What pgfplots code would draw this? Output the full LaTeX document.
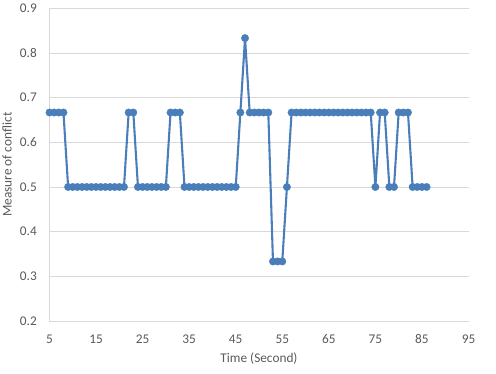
\documentclass[border=0pt]{standalone}
\usepackage{pgfplots}
\pgfplotsset{compat=1.18}
\usepackage{fontspec}
\setmainfont{Carlito}
\definecolor{ser}{HTML}{4A7EBB}
\definecolor{gridc}{HTML}{D9D9D9}
\definecolor{txt}{HTML}{595959}
\begin{document}
\begin{tikzpicture}
\begin{axis}[name=ax,
  scale only axis, width=419bp, height=312.7bp,
  xmin=5, xmax=95, ymin=0.2, ymax=0.9,
  xtick={5,15,...,95}, ytick={0.2,0.3,...,0.9},
  axis x line*=bottom, axis y line*=left,
  axis line style={gridc, line width=0.75pt, -},
  major tick length=0pt,
  ymajorgrids, grid style={gridc, line width=0.75pt},
  tick label style={font=\fontsize{13.3bp}{15bp}\selectfont, text=txt, inner sep=0pt},
  xticklabel style={anchor=base, yshift=-22.3bp},
  yticklabel style={anchor=east, xshift=-12.5bp, /pgf/number format/fixed, /pgf/number format/precision=1, /pgf/number format/fixed zerofill},
  /pgf/number format/assume math mode=true,
  xlabel={Time (Second)}, ylabel={Measure of conflict},
  label style={font=\fontsize{13.3bp}{15bp}\selectfont, text=txt, inner sep=0pt},
  xlabel style={at={(axis description cs:0.5,0)}, anchor=center, yshift=-38bp},
  ylabel style={at={(axis description cs:0,0.5)}, anchor=center, yshift=42.5bp},
  clip=false,
]
\addplot[ser, line width=2.1pt, mark=*, mark size=3.7bp, mark options={solid, fill=ser, draw=ser, line width=0.4pt}] coordinates {
(5,0.6667)(6,0.6667)(7,0.6667)(8,0.6667)
(9,0.5)(10,0.5)(11,0.5)(12,0.5)(13,0.5)(14,0.5)(15,0.5)(16,0.5)(17,0.5)(18,0.5)(19,0.5)(20,0.5)(21,0.5)
(22,0.6667)(23,0.6667)
(24,0.5)(25,0.5)(26,0.5)(27,0.5)(28,0.5)(29,0.5)(30,0.5)
(31,0.6667)(32,0.6667)(33,0.6667)
(34,0.5)(35,0.5)(36,0.5)(37,0.5)(38,0.5)(39,0.5)(40,0.5)(41,0.5)(42,0.5)(43,0.5)(44,0.5)(45,0.5)
(46,0.6667)(47,0.8333)
(48,0.6667)(49,0.6667)(50,0.6667)(51,0.6667)(52,0.6667)
(53,0.3333)(54,0.3333)(55,0.3333)
(56,0.5)
(57,0.6667)(58,0.6667)(59,0.6667)(60,0.6667)(61,0.6667)(62,0.6667)(63,0.6667)(64,0.6667)(65,0.6667)(66,0.6667)(67,0.6667)(68,0.6667)(69,0.6667)(70,0.6667)(71,0.6667)(72,0.6667)(73,0.6667)(74,0.6667)
(75,0.5)
(76,0.6667)(77,0.6667)
(78,0.5)(79,0.5)
(80,0.6667)(81,0.6667)(82,0.6667)
(83,0.5)(84,0.5)(85,0.5)(86,0.5)
};
\end{axis}
\pgfresetboundingbox
\path ([shift={(-49.5bp,-53bp)}]ax.south west) rectangle ([shift={(27.5bp,8.3bp)}]ax.north east);
\end{tikzpicture}
\end{document}
